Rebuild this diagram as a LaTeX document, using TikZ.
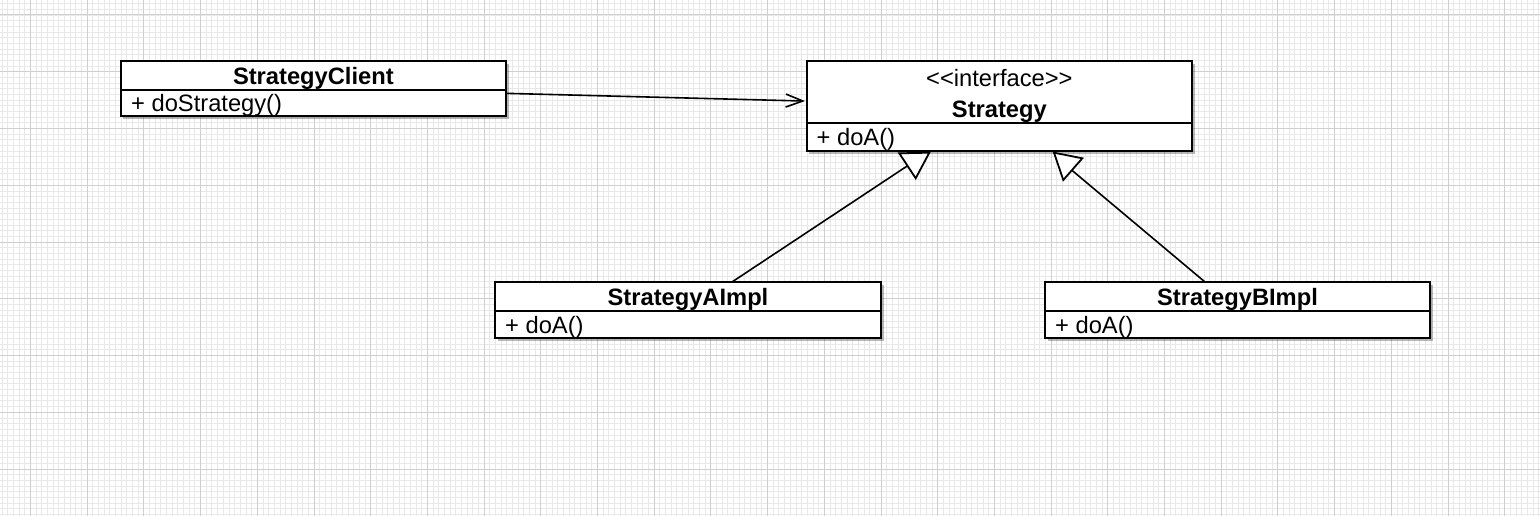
\documentclass[tikz,border=0pt]{standalone}
\usepackage{fontspec}
\setmainfont{Liberation Sans}
\usetikzlibrary{arrows.meta,calc,shadows}
\tikzset{
  minorgrid/.style={draw=black!9, line width=0.9pt},
  majorgrid/.style={draw=black!19, line width=1pt},
  umlbox/.style={draw=black, fill=white, line width=2pt, inner sep=0pt, outer sep=0pt,
    anchor=north west,
    drop shadow={shadow xshift=2.5pt, shadow yshift=-3pt, opacity=0.28, fill=black}},
  divider/.style={line width=2pt},
  titletext/.style={font=\fontsize{23.7}{28}\selectfont\bfseries, anchor=base, inner sep=0pt},
  stereotext/.style={font=\fontsize{23.7}{28}\selectfont, anchor=base, inner sep=0pt},
  membertext/.style={font=\fontsize{23.7}{28}\selectfont, anchor=base west, inner sep=0pt},
  conn/.style={line width=1.6pt},
  genhead/.style={line width=1.8pt, fill=white, line join=miter}
}
\begin{document}
\begin{tikzpicture}[x=1pt,y=-1pt]
\useasboundingbox (0,0) rectangle (1540,516);
\begin{scope}
  \clip (0,0) rectangle (1540,516);
  \fill[white] (0,0) rectangle (1540,516);
  \foreach \i in {0,...,273} {\draw[minorgrid] ({-3.52+\i*5.67},0) -- ++(0,516);}
  \foreach \i in {0,...,92} {\draw[minorgrid] (0,{-2.0+\i*5.675}) -- ++(1540,0);}
  \foreach \k in {0,...,26} {\draw[majorgrid] ({30.5+\k*56.7},0) -- ++(0,516);}
  \foreach \k in {0,...,8} {\draw[majorgrid] (0,{15+\k*56.75}) -- ++(1540,0);}
\end{scope}

% boxes
\node[umlbox, minimum width=385.3pt, minimum height=55.5pt] (client) at (120.7,61) {};
\node[umlbox, minimum width=385.3pt, minimum height=89.7pt] (strat) at (806.7,61) {};
\node[umlbox, minimum width=386pt, minimum height=55.7pt] (aimpl) at (495,282) {};
\node[umlbox, minimum width=385pt, minimum height=55.7pt] (bimpl) at (1045,282) {};

% dividers
\draw[divider] ($(client.north west)+(0,29)$) -- ($(client.north east)+(0,29)$);
\draw[divider] ($(strat.north west)+(0,61.7)$) -- ($(strat.north east)+(0,61.7)$);
\draw[divider] ($(aimpl.north west)+(0,28.7)$) -- ($(aimpl.north east)+(0,28.7)$);
\draw[divider] ($(bimpl.north west)+(0,28.7)$) -- ($(bimpl.north east)+(0,28.7)$);

% texts
\node[titletext] (clientT) at ($(client.north)+(0,23.3)$) {StrategyClient};
\node[membertext] (clientM) at ($(client.north west)+(10.3,50.7)$) {+ doStrategy()};

\node[stereotext] (stratS) at ($(strat.north)+(0,25.7)$) {<\kern0pt<interface>\kern0pt>};
\node[titletext] (stratT) at ($(strat.north)+(0,56.7)$) {Strategy};
\node[membertext] (stratM) at ($(strat.north west)+(9.8,84.7)$) {+ doA()};

\node[titletext] (aimplT) at ($(aimpl.north)+(0,23)$) {StrategyAImpl};
\node[membertext] (aimplM) at ($(aimpl.north west)+(10,51.3)$) {+ doA()};

\node[titletext] (bimplT) at ($(bimpl.north)+(0,23)$) {StrategyBImpl};
\node[membertext] (bimplM) at ($(bimpl.north west)+(10,51.3)$) {+ doA()};

% association
\coordinate (assocS) at ($(client.east)+(0,4.6)$);
\coordinate (assocE) at ($(strat.west)+(-1.7,-4.8)$);
\draw[conn, -{Straight Barb[length=17pt, width=13pt, line width=1.6pt]}] (assocS) -- (assocE);

% generalization A
\coordinate (ta1) at (899.3,153.3);
\coordinate (ta2) at (929.3,152.7);
\coordinate (ta3) at (915.7,178.3);
\coordinate (aStart) at ($(aimpl.north)+(44,0)$);
\draw[conn] (aStart) -- ($(ta1)!0.5!(ta3)$);
\draw[genhead] (ta1) -- (ta2) -- (ta3) -- cycle;

% generalization B
\coordinate (tb1) at (1054,152.7);
\coordinate (tb2) at (1082.3,158.3);
\coordinate (tb3) at (1063.3,180);
\coordinate (bStart) at ($(bimpl.north)+(-32.5,0)$);
\draw[conn] (bStart) -- ($(tb2)!0.55!(tb3)$);
\draw[genhead] (tb1) -- (tb2) -- (tb3) -- cycle;
\end{tikzpicture}
\end{document}
